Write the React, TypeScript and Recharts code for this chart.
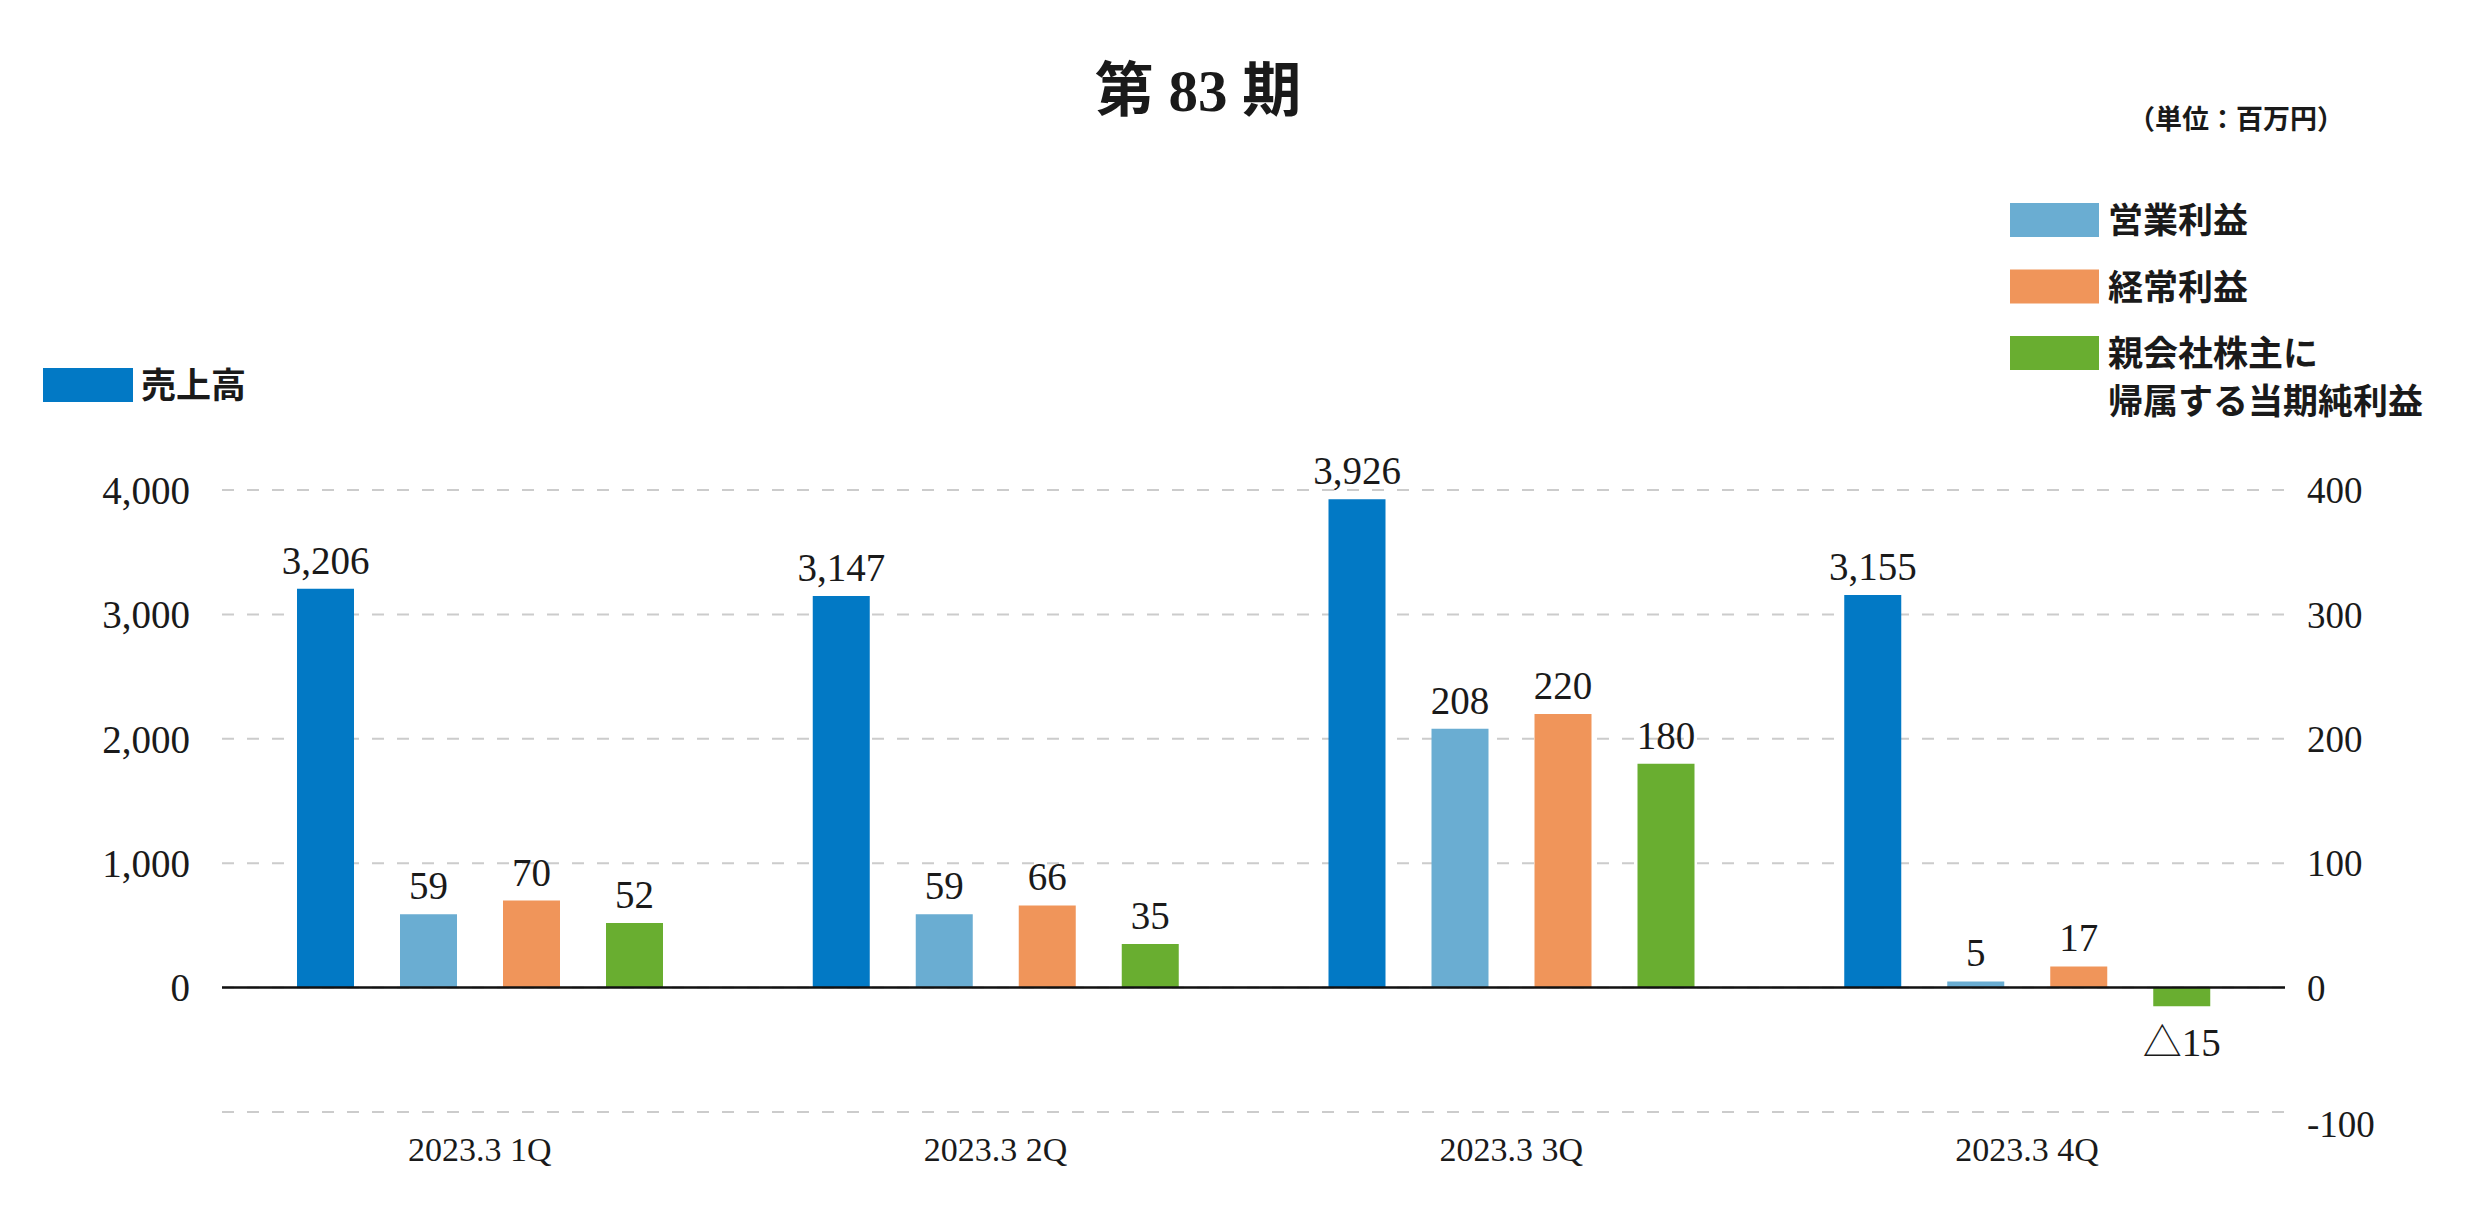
import React from 'react';
import {
  ComposedChart,
  Bar,
  XAxis,
  YAxis,
  CartesianGrid,
  ReferenceLine,
  LabelList,
} from 'recharts';

const categories = ['2023.3 1Q', '2023.3 2Q', '2023.3 3Q', '2023.3 4Q'];
const sales = [3206, 3147, 3926, 3155];
const operatingProfit = [59, 59, 208, 5];
const ordinaryProfit = [70, 66, 220, 17];
const netProfit = [52, 35, 180, -15];

const leftTicks = [-1000, 0, 1000, 2000, 3000, 4000];
const rightTicks = [-100, 0, 100, 200, 300, 400];

const SERIES = [
  { key: 'sales', name: '売上高', color: '#0279C5', axis: 'left', values: sales },
  { key: 'op', name: '営業利益', color: '#6AADD2', axis: 'right', values: operatingProfit },
  { key: 'ord', name: '経常利益', color: '#F0955A', axis: 'right', values: ordinaryProfit },
  { key: 'net', name: '親会社株主に\n帰属する当期純利益', color: '#69AE30', axis: 'right', values: netProfit },
];

const data = categories.map((c, i) => {
  const row: any = { name: c };
  SERIES.forEach((s) => {
    row[s.key] = s.values[i];
  });
  return row;
});

const FONT = "'Liberation Serif', 'Noto Sans CJK JP', serif";
const CJK = "'Liberation Serif', 'Noto Sans CJK JP', sans-serif";
const TEXT = '#1a1a1a';

const fmtValue = (v: number) =>
  v < 0 ? '△' + Math.abs(v).toLocaleString('en-US') : v.toLocaleString('en-US');

const renderLabel = (props: any) => {
  const vb = props.viewBox || {};
  const x = Number(vb.x ?? props.x);
  const y = Number(vb.y ?? props.y);
  const w = Number(vb.width ?? props.width);
  const h = Number(vb.height ?? props.height);
  const v = Number(props.value);
  if (!isFinite(x) || !isFinite(y) || !isFinite(v)) return null;
  const top = Math.min(y, y + h);
  const bottom = Math.max(y, y + h);
  const cx = x + w / 2;
  if (v < 0) {
    return (
      <text x={cx} y={bottom + 50} textAnchor="middle" fontFamily={FONT} fontSize={39} fill={TEXT}>
        {fmtValue(v)}
      </text>
    );
  }
  return (
    <text x={cx} y={top - 15} textAnchor="middle" fontFamily={FONT} fontSize={39} fill={TEXT}>
      {fmtValue(v)}
    </text>
  );
};

const RightTick = (props: any) => {
  const { x, y, payload } = props;
  const v = Number(payload.value);
  const dy = v < 0 ? 12 : 0;
  return (
    <text x={x} y={y + dy} dy="0.355em" textAnchor="start" fontFamily={FONT} fontSize={37} fill={TEXT}>
      {String(v)}
    </text>
  );
};

const Overlay = () => {
  const left = SERIES.filter((s) => s.axis === 'left');
  const right = SERIES.filter((s) => s.axis === 'right');
  return (
    <svg
      width={2488}
      height={1218}
      style={{ position: 'absolute', left: 0, top: 0, pointerEvents: 'none' }}
    >
      <text x={1198} y={111} textAnchor="middle" fontFamily={CJK} fontWeight={700} fontSize={59} fill={TEXT}>
        第 83 期
      </text>
      <text x={2236} y={129} textAnchor="middle" fontFamily={CJK} fontWeight={700} fontSize={27} fill={TEXT}>
        （単位：百万円）
      </text>
      {left.map((s, i) => (
        <g key={s.key}>
          <rect x={43} y={368 + i * 66} width={90} height={34} fill={s.color} />
          <text x={141} y={398 + i * 66} fontFamily={CJK} fontWeight={700} fontSize={35} fill={TEXT}>
            {s.name}
          </text>
        </g>
      ))}
      {right.map((s, i) => {
        const top = 203 + i * 66.5;
        const lines = s.name.split('\n');
        return (
          <g key={s.key}>
            <rect x={2010} y={top} width={89} height={34} fill={s.color} />
            {lines.map((ln, j) => (
              <text
                key={j}
                x={2108}
                y={top + 30 + j * 48}
                fontFamily={CJK}
                fontWeight={700}
                fontSize={35}
                fill={TEXT}
              >
                {ln}
              </text>
            ))}
          </g>
        );
      })}
    </svg>
  );
};

export default function App() {
  return (
    <div style={{ position: 'absolute', left: 0, top: 0, width: 2488, height: 1218, background: '#fff' }}>
      <ComposedChart
        width={2488}
        height={1218}
        data={data}
        margin={{ top: 490, right: 0, bottom: 26, left: 0 }}
        barSize={57}
        barGap={46}
      >
        <CartesianGrid
          yAxisId="left"
          vertical={false}
          stroke="#cccccc"
          strokeWidth={2}
          strokeDasharray="12 13"
        />
        <XAxis
          dataKey="name"
          axisLine={false}
          tickLine={false}
          tickSize={0}
          tickMargin={25}
          height={80}
          interval={0}
          tick={{ fontFamily: FONT, fontSize: 34, fill: TEXT }}
        />
        <YAxis
          yAxisId="left"
          orientation="left"
          width={222}
          domain={[-1000, 4000]}
          ticks={leftTicks}
          interval={0}
          axisLine={false}
          tickLine={false}
          tickSize={0}
          tickMargin={32}
          tickFormatter={(v: number) => (v < 0 ? '' : v.toLocaleString('en-US'))}
          tick={{ fontFamily: FONT, fontSize: 39, fill: TEXT }}
        />
        <YAxis
          yAxisId="right"
          orientation="right"
          width={203}
          domain={[-100, 400]}
          ticks={rightTicks}
          interval={0}
          axisLine={false}
          tickLine={false}
          tickSize={0}
          tickMargin={22}
          tick={<RightTick />}
        />
        {SERIES.map((s) => (
          <Bar
            key={s.key}
            dataKey={s.key}
            name={s.name}
            yAxisId={s.axis}
            fill={s.color}
            isAnimationActive={false}
          >
            <LabelList dataKey={s.key} content={renderLabel} />
          </Bar>
        ))}
        <ReferenceLine yAxisId="left" y={0} stroke="#111" strokeWidth={2.5} />
      </ComposedChart>
      <Overlay />
    </div>
  );
}
